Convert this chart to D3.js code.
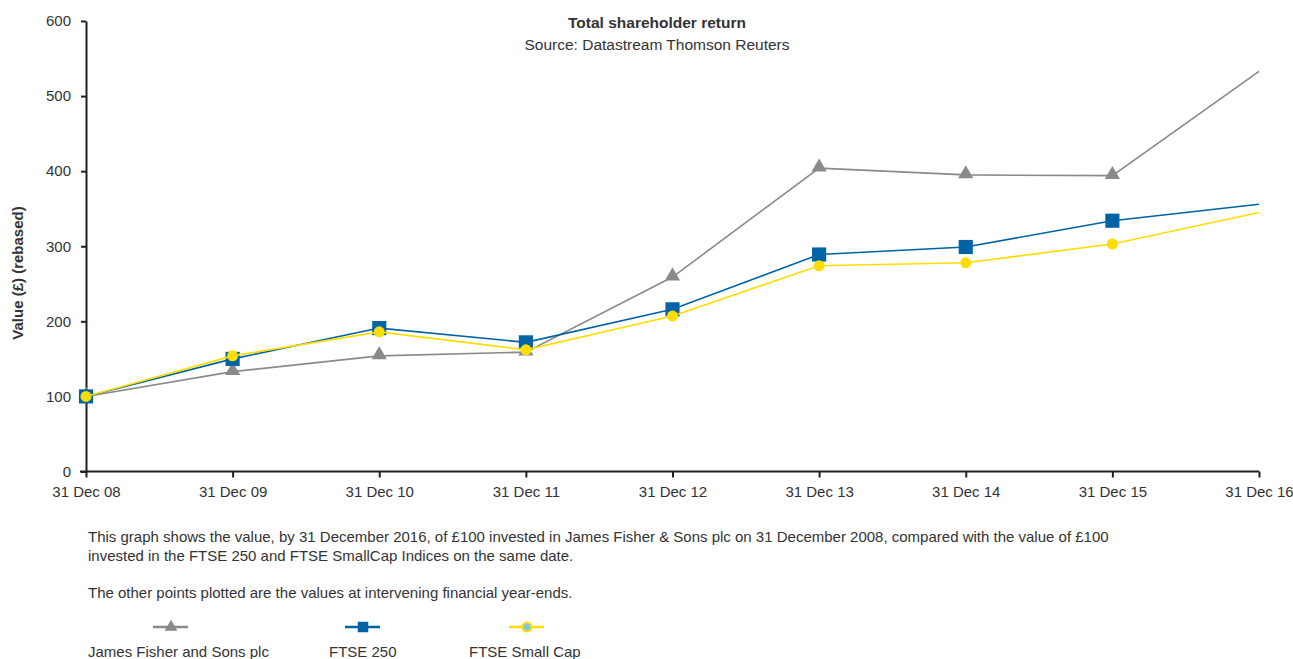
<!DOCTYPE html>
<html>
<head>
<meta charset="utf-8">
<script src="https://cdn.jsdelivr.net/npm/d3@7"></script>
<style>
  body { margin: 0; background: #fff; }
  text { font-family: "Liberation Sans", Arial, sans-serif; fill: #333; }
  .axis path, .axis line { stroke: #231f20; stroke-width: 2; }
  .axis text { font-size: 15px; fill: #333; font-family: "Liberation Sans", Arial, sans-serif; }
</style>
</head>
<body>
<div id="chart"></div>
<script>
// data
const categories = ["31 Dec 08", "31 Dec 09", "31 Dec 10", "31 Dec 11", "31 Dec 12", "31 Dec 13", "31 Dec 14", "31 Dec 15", "31 Dec 16"];
const jamesFisher = [100, 133, 154, 159, 259, 404, 395, 394, 533];
const ftse250 = [100, 150, 191, 172, 216, 289, 299, 334, 356];
const ftseSmallCap = [100, 154, 186, 162, 207, 274, 278, 303, 345];
const yTicks = [0, 100, 200, 300, 400, 500, 600];
const seriesNames = ["James Fisher and Sons plc", "FTSE 250", "FTSE Small Cap"];

const width = 1293, height = 659;
const margin = { top: 21, left: 86, right: 34, bottom: 188 };

const svg = d3.select("#chart")
  .append("svg")
  .attr("width", width)
  .attr("height", height);

const x = d3.scalePoint()
  .domain(categories)
  .range([margin.left, width - margin.right]);

const y = d3.scaleLinear()
  .domain([0, 600])
  .range([height - margin.bottom + 0.5, margin.top]);

// axes
svg.append("g")
  .attr("class", "axis")
  .attr("transform", "translate(0," + y(0) + ")")
  .call(d3.axisBottom(x).tickSize(6).tickSizeOuter(0).tickPadding(9))
  .call(g => g.select(".domain").attr("d", "M" + (margin.left - 6) + ",0H" + x(categories[categories.length - 1])));

svg.append("g")
  .attr("class", "axis")
  .attr("transform", "translate(" + margin.left + ",0)")
  .call(d3.axisLeft(y).tickValues(yTicks).tickSize(5).tickSizeOuter(0).tickPadding(10));

// titles
svg.append("text")
  .attr("x", 657).attr("y", 28)
  .attr("text-anchor", "middle")
  .attr("font-size", "15.5px").attr("font-weight", "bold")
  .text("Total shareholder return");

svg.append("text")
  .attr("x", 657).attr("y", 50)
  .attr("text-anchor", "middle")
  .attr("font-size", "15.5px")
  .text("Source: Datastream Thomson Reuters");

svg.append("text")
  .attr("transform", "translate(23,273) rotate(-90)")
  .attr("text-anchor", "middle")
  .attr("font-size", "15px").attr("font-weight", "bold")
  .text("Value (£) (rebased)");

// lines
const line = d3.line()
  .x((d, i) => x(categories[i]))
  .y(d => y(d));

const series = [
  { name: seriesNames[0], values: jamesFisher, color: "#8a8a8a", marker: "triangle" },
  { name: seriesNames[1], values: ftse250, color: "#0063a6", marker: "square" },
  { name: seriesNames[2], values: ftseSmallCap, color: "#ffdd00", marker: "circle" }
];

const symbolFor = {
  triangle: d3.symbol().type(d3.symbolTriangle).size(100),
  square: d3.symbol().type(d3.symbolSquare).size(200),
  circle: d3.symbol().type(d3.symbolCircle).size(95)
};

series.forEach(s => {
  svg.append("path")
    .datum(s.values)
    .attr("fill", "none")
    .attr("stroke", s.color)
    .attr("stroke-width", 1.6)
    .attr("d", line);

  svg.selectAll(null)
    .data(s.values.slice(0, s.values.length - 1))
    .enter()
    .append("path")
    .attr("d", symbolFor[s.marker]())
    .attr("transform", (d, i) => "translate(" + x(categories[i]) + "," + (y(d) + (s.marker === "triangle" ? -1 : 0)) + ")")
    .attr("fill", s.color);
});

// footnote
const notes = [
  { t: "This graph shows the value, by 31 December 2016, of £100 invested in James Fisher & Sons plc on 31 December 2008, compared with the value of £100", y: 542 },
  { t: "invested in the FTSE 250 and FTSE SmallCap Indices on the same date.", y: 561 },
  { t: "The other points plotted are the values at intervening financial year-ends.", y: 598 }
];
svg.selectAll(".note")
  .data(notes)
  .enter()
  .append("text")
  .attr("class", "note")
  .attr("x", 88)
  .attr("y", d => d.y)
  .attr("font-size", "15px")
  .text(d => d.t);

// legend
const legendX = [171, 363, 527];
const legendTextX = [88, 329, 469];
series.forEach((s, i) => {
  const g = svg.append("g").attr("transform", "translate(" + legendX[i] + ",627)");
  g.append("line")
    .attr("x1", -18).attr("x2", 17)
    .attr("stroke", s.color).attr("stroke-width", 2.5);
  if (s.marker === "triangle") {
    g.append("path").attr("d", d3.symbol().type(d3.symbolTriangle).size(70)()).attr("fill", s.color);
  } else if (s.marker === "square") {
    g.append("path").attr("d", d3.symbol().type(d3.symbolSquare).size(110)()).attr("fill", s.color);
  } else {
    g.append("circle").attr("r", 4.5).attr("fill", "#7ec8e3").attr("stroke", s.color).attr("stroke-width", 2);
  }
  svg.append("text")
    .attr("x", legendTextX[i]).attr("y", 657)
    .attr("font-size", "15px")
    .text(s.name);
});
</script>
</body>
</html>
